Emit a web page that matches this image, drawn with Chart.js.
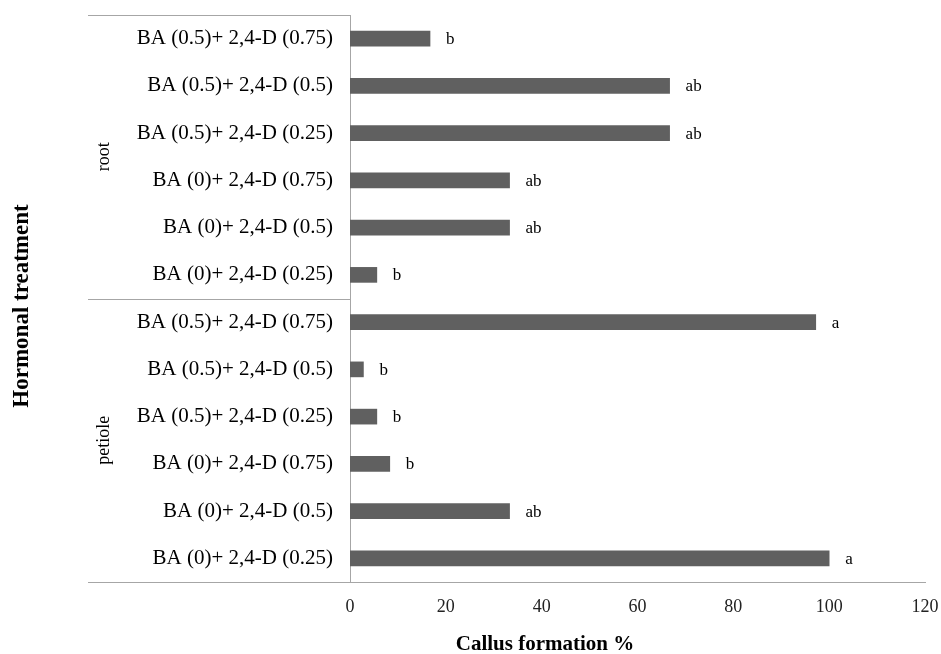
<!DOCTYPE html>
<html>
<head>
<meta charset="utf-8">
<script src="https://cdn.jsdelivr.net/npm/chart.js@4"></script>
<style>
  html, body { margin: 0; padding: 0; background: #fff; }
  #wrap { width: 941px; height: 654px; }
</style>
</head>
<body>
<div id="wrap"><canvas id="callus"></canvas></div>
<script>
// treatments, top to bottom
const treatments = [
    "BA (0.5)+ 2,4-D (0.75)",
    "BA (0.5)+ 2,4-D (0.5)",
    "BA (0.5)+ 2,4-D (0.25)",
    "BA (0)+ 2,4-D (0.75)",
    "BA (0)+ 2,4-D (0.5)",
    "BA (0)+ 2,4-D (0.25)",
    "BA (0.5)+ 2,4-D (0.75)",
    "BA (0.5)+ 2,4-D (0.5)",
    "BA (0.5)+ 2,4-D (0.25)",
    "BA (0)+ 2,4-D (0.75)",
    "BA (0)+ 2,4-D (0.5)",
    "BA (0)+ 2,4-D (0.25)",
];
const explants = ["root", "petiole"];
const callusValues = [16.7, 66.7, 66.7, 33.3, 33.3, 5.6, 97.2, 2.8, 5.6, 8.3, 33.3, 100];
const letters = ["b", "ab", "ab", "ab", "ab", "b", "a", "b", "b", "b", "ab", "a"];
const xTicks = [0, 20, 40, 60, 80, 100, 120];

const serif = "'Liberation Serif', 'Times New Roman', serif";
const lineColor = "#a6a6a6";

// letters, group labels, frame lines, axis titles
const extras = {
    id: "extras",
    afterDatasetsDraw(chart) {
        const ctx = chart.ctx;
        const area = chart.chartArea;
        const meta = chart.getDatasetMeta(0);
        ctx.save();
        ctx.fillStyle = "#000";
        ctx.font = "17px " + serif;
        ctx.textAlign = "left";
        ctx.textBaseline = "middle";
        meta.data.forEach((bar, i) => {
            ctx.fillText(letters[i], bar.x + 16, bar.y + 1);
        });

        // frame lines
        const half = treatments.length / 2;
        const yScale = chart.scales.y;
        const sep = (yScale.getPixelForValue(half - 1) + yScale.getPixelForValue(half)) / 2;
        const left = 88;
        ctx.strokeStyle = lineColor;
        ctx.lineWidth = 1;
        ctx.beginPath();
        ctx.moveTo(left, area.top + 0.5);
        ctx.lineTo(area.left, area.top + 0.5);
        ctx.moveTo(left, Math.round(sep) + 0.5);
        ctx.lineTo(area.left, Math.round(sep) + 0.5);
        ctx.moveTo(left, area.bottom + 0.5);
        ctx.lineTo(area.left, area.bottom + 0.5);
        ctx.stroke();

        // group labels
        ctx.font = "18px " + serif;
        ctx.textAlign = "center";
        const groups = [(area.top + sep) / 2, (sep + area.bottom) / 2];
        groups.forEach((y, i) => {
            ctx.save();
            ctx.translate(104, y);
            ctx.rotate(-Math.PI / 2);
            ctx.fillText(explants[i], 0, 0);
            ctx.restore();
        });

        // axis titles
        ctx.font = "bold 23px " + serif;
        ctx.save();
        ctx.translate(22, 306);
        ctx.rotate(-Math.PI / 2);
        ctx.fillText("Hormonal treatment", 0, 0);
        ctx.restore();
        ctx.font = "bold 21px " + serif;
        ctx.fillText("Callus formation %", 545, 645);
        ctx.restore();
    },
};

const config = {
    type: "bar",
    data: {
        labels: treatments,
        datasets: [
            {
                data: callusValues,
                backgroundColor: "#606060",
                borderWidth: 0,
                barThickness: 15,
            },
        ],
    },
    options: {
        indexAxis: "y",
        responsive: true,
        maintainAspectRatio: false,
        animation: false,
        layout: { padding: { top: 15, right: 16, left: 0, bottom: 0 } },
        plugins: {
            legend: { display: false },
            tooltip: { enabled: false },
        },
        scales: {
            x: {
                min: 0,
                max: 120,
                afterBuildTicks: (scale) => {
                    scale.ticks = xTicks.map((v) => ({ value: v }));
                },
                grid: { display: false, drawTicks: false },
                border: { display: true, color: lineColor },
                ticks: {
                    color: "#222",
                    font: { family: serif, size: 18 },
                    padding: 14,
                },
                afterFit: (scale) => {
                    scale.height = 72;
                    scale.paddingLeft = 0;
                    scale.paddingRight = 0;
                },
            },
            y: {
                grid: { display: false, drawTicks: false },
                border: { display: true, color: lineColor },
                ticks: {
                    color: "#000",
                    font: { family: serif, size: 21 },
                    padding: 17,
                    autoSkip: false,
                },
                afterFit: (scale) => {
                    scale.width = 350;
                    scale.paddingTop = 0;
                    scale.paddingBottom = 0;
                },
            },
        },
    },
    plugins: [extras],
};

const canvas = document.getElementById("callus");
canvas.chart = new Chart(canvas, config);
</script>
</body>
</html>
